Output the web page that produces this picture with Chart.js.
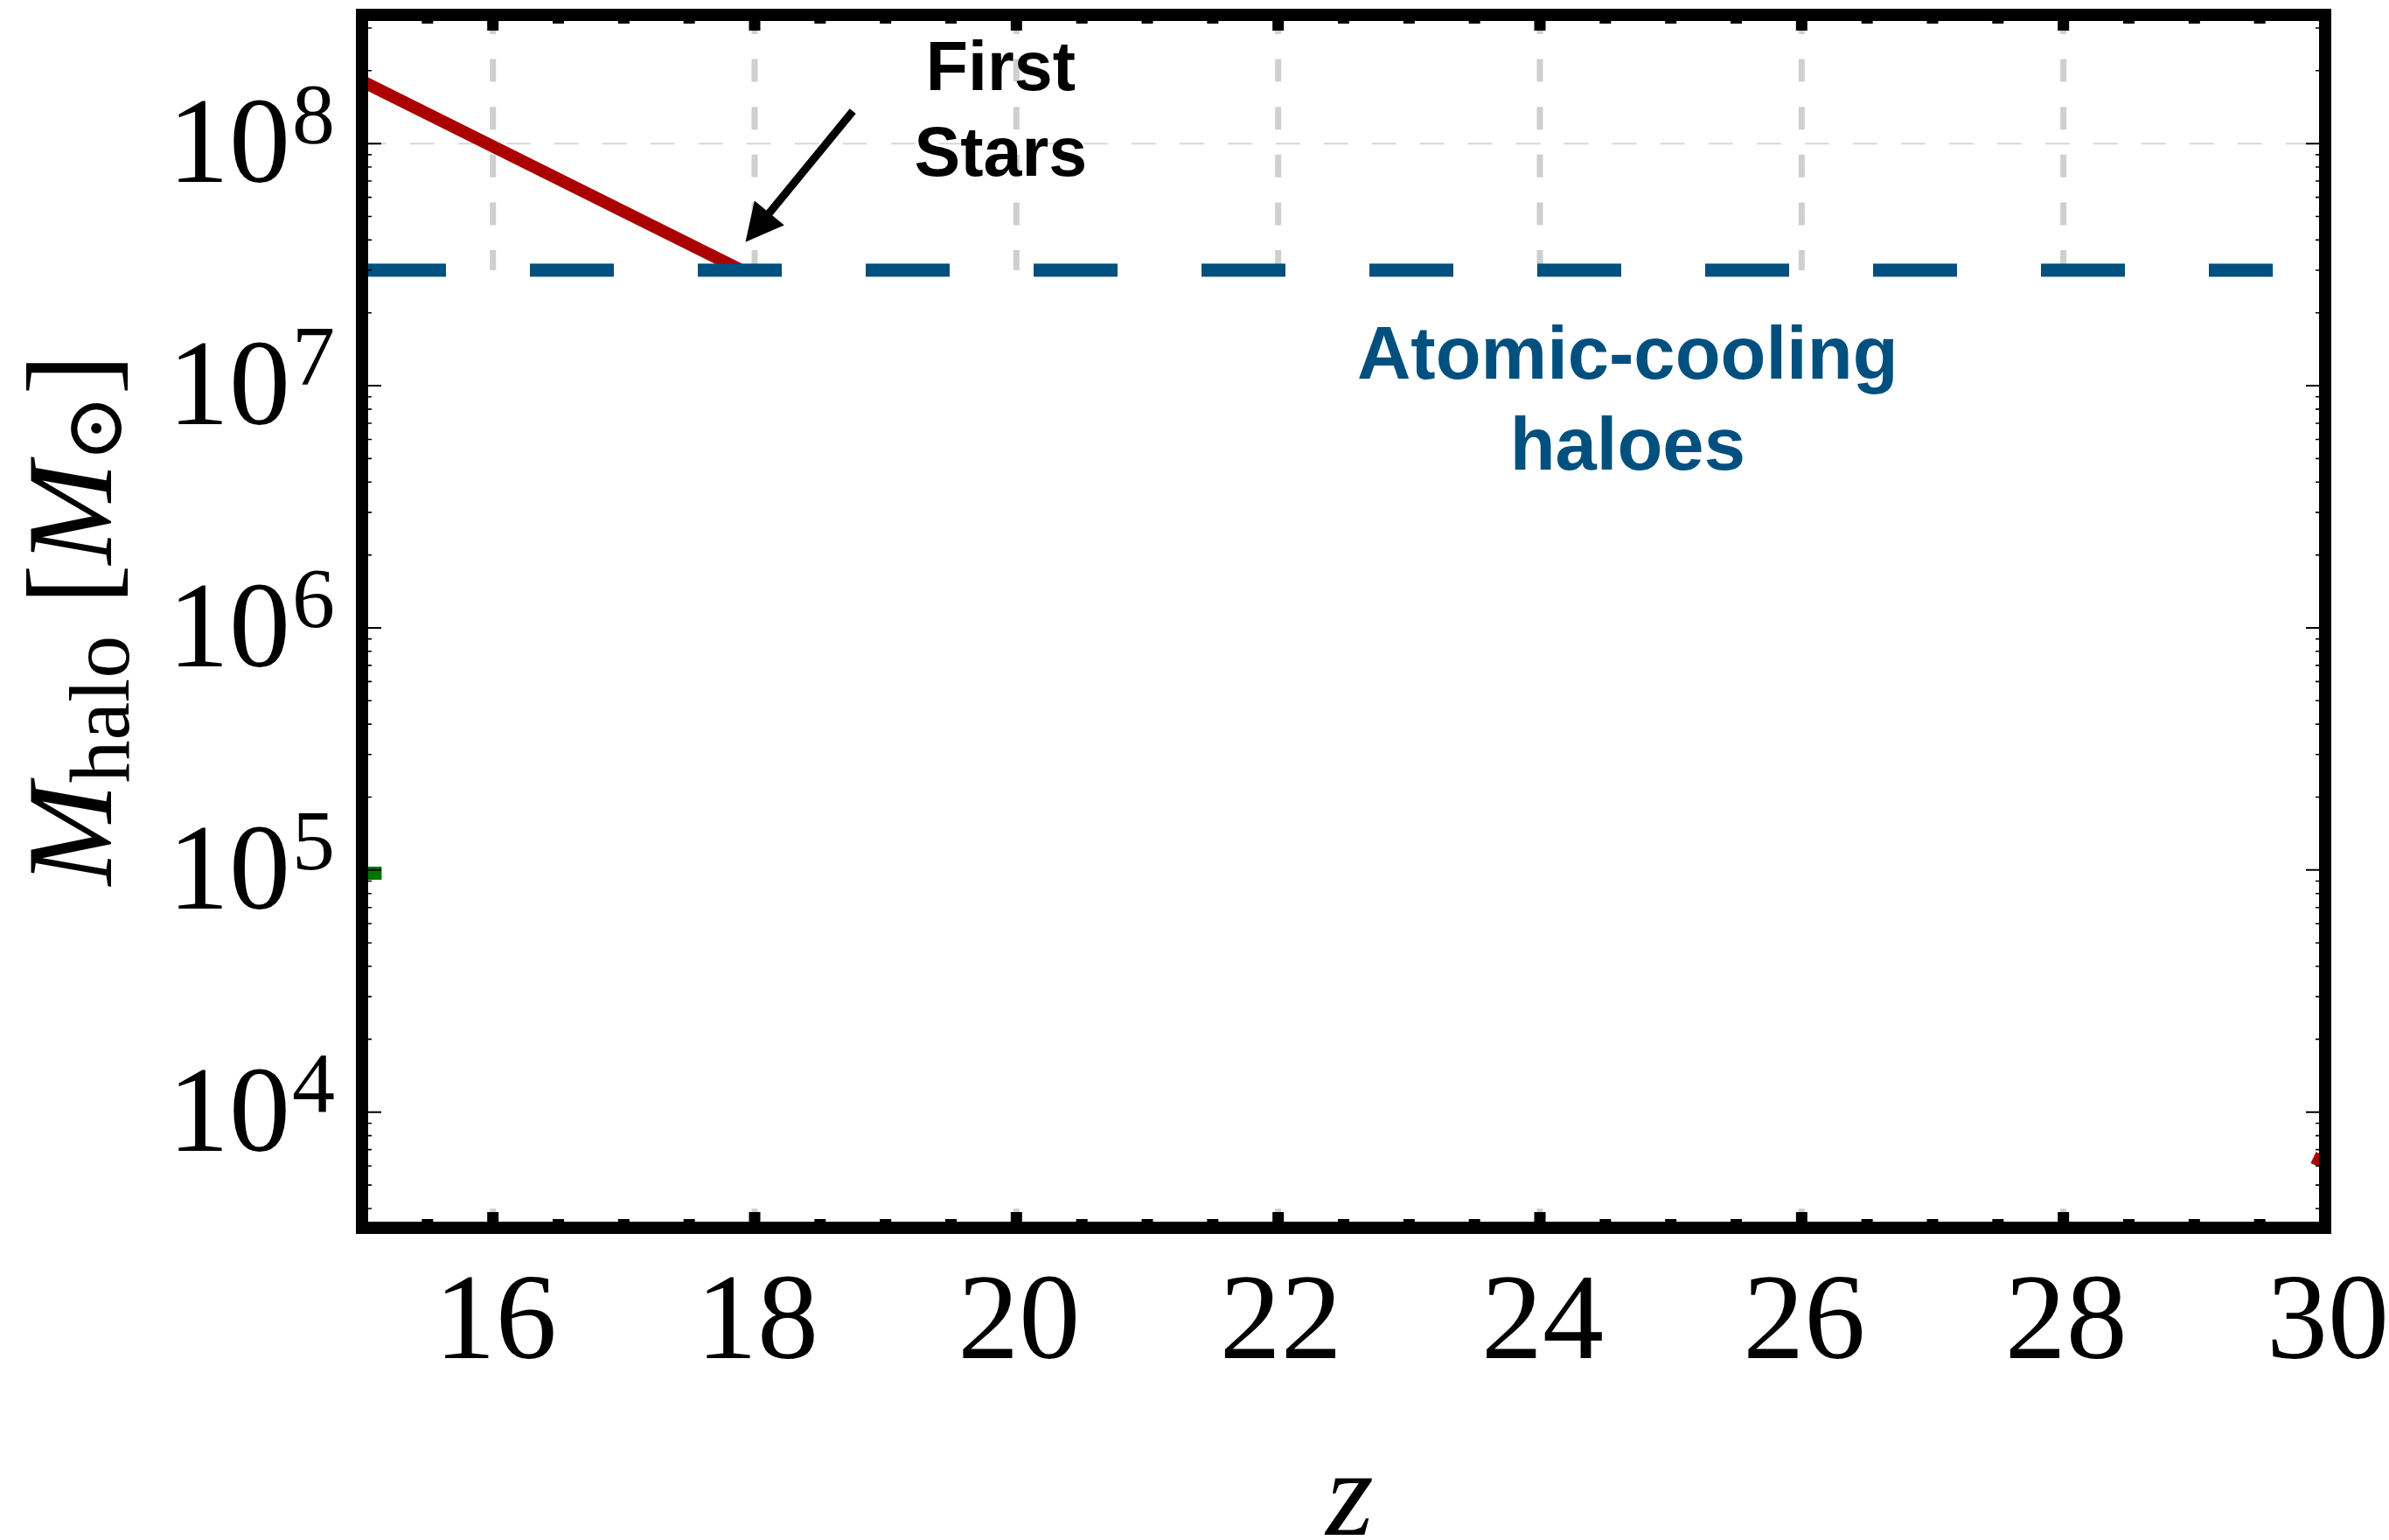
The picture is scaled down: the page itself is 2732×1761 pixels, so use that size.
<!DOCTYPE html>
<html>
<head>
<meta charset="utf-8">
<title>Halo mass versus redshift</title>
<script src="https://cdn.jsdelivr.net/npm/chart.js@4.4.1/dist/chart.umd.min.js"></script>
<style>
  html, body { margin: 0; padding: 0; background: #ffffff; }
  #wrap { width: 2732px; height: 1761px; position: relative; }
</style>
</head>
<body>
<div id="wrap"><canvas id="c"></canvas></div>
<script>
// Axis ranges and ticks
const zRange = [15, 30];
const massRange = [3.33e3, 3.4e8];
const zTickLabels = [16, 18, 20, 22, 24, 26, 28, 30];
const zMinorStep = 0.5;
const massTickExponents = [4, 5, 6, 7, 8];

// Halo mass of the first star-forming haloes (red track)
const zFirstStars = [15.0, 17.9];
const mFirstStars = [1.81e8, 3.0e7];

// Atomic-cooling threshold (blue dashed)
const zAtomic = [15.0, 29.6];
const mAtomic = [3.0e7, 3.0e7];

// White band below the threshold (hides the grid there)
const zBand = [15.0, 30.0];
const mBandTop = [3.0e7, 3.0e7];
const mBandBottom = 4.0e3;

// Red track entering at the high-redshift edge
const zRedHighZ = [29.91, 30.6];
const mRedHighZ = [6.5e3, 4.3e3];

// Green track at the low-redshift edge
const zGreen = [14.5, 15.15];
const mGreen = [9.7e4, 9.7e4];

// Annotation texts
const firstStarsText = ['First', 'Stars'];
const atomicText = ['Atomic-cooling', 'haloes'];

const SERIF = "'Liberation Serif', 'DejaVu Serif', serif";
const SANS = "'Liberation Sans', Arial, Helvetica, sans-serif";
const RED = '#aa0000';
const BLUE = '#00507f';
const GREEN = '#007400';

function track(xs, ys, color, width, extra) {
  return Object.assign({
    data: xs.map((x, i) => ({ x: x, y: ys[i] })),
    borderColor: color,
    backgroundColor: color,
    borderWidth: width,
    pointRadius: 0,
    pointHoverRadius: 0,
    tension: 0,
    fill: false,
    clip: 0,
    borderCapStyle: 'butt',
    borderJoinStyle: 'round'
  }, extra || {});
}

// Dashed grid at every labelled redshift and every decade of mass
const gridPlugin = {
  id: 'dashedGrid',
  beforeDatasetsDraw(chart) {
    const { ctx, chartArea: a, scales: { x, y } } = chart;
    ctx.save();
    ctx.beginPath();
    ctx.rect(a.left, a.top, a.right - a.left, a.bottom - a.top);
    ctx.clip();
    ctx.lineCap = 'butt';
    ctx.strokeStyle = '#cfcfcf';
    ctx.lineWidth = 7;
    ctx.setLineDash([26, 28.6]);
    zTickLabels.forEach(z => {
      const px = x.getPixelForValue(z);
      ctx.beginPath();
      ctx.moveTo(px, a.bottom);
      ctx.lineTo(px, a.top);
      ctx.stroke();
    });
    ctx.strokeStyle = '#d6d6d6';
    ctx.lineWidth = 2;
    ctx.setLineDash([27.5, 27.5]);
    massTickExponents.forEach(e => {
      const py = y.getPixelForValue(Math.pow(10, e));
      ctx.beginPath();
      ctx.moveTo(a.left, py);
      ctx.lineTo(a.right, py);
      ctx.stroke();
    });
    ctx.restore();
  }
};

// Frame, inward ticks, tick labels and axis titles
const axesPlugin = {
  id: 'frameAxes',
  afterDatasetsDraw(chart) {
    const { ctx, chartArea: a, scales: { x, y } } = chart;
    ctx.save();
    ctx.setLineDash([]);

    // frame
    ctx.strokeStyle = '#000';
    ctx.lineWidth = 14;
    ctx.lineJoin = 'miter';
    ctx.strokeRect(a.left, a.top, a.right - a.left, a.bottom - a.top);

    // x ticks (top and bottom)
    ctx.fillStyle = '#000';
    const tw = 13;
    for (let z = zRange[0]; z <= zRange[1] + 1e-9; z += zMinorStep) {
      const px = x.getPixelForValue(z);
      const major = zTickLabels.indexOf(z) >= 0;
      const len = major ? 18 : 10;
      ctx.fillRect(px - tw / 2, a.top, tw, len);
      ctx.fillRect(px - tw / 2, a.bottom - len, tw, len);
    }

    // y ticks (left and right)
    ctx.strokeStyle = '#000';
    for (let d = 3; d <= 8; d++) {
      for (let k = 1; k <= 9; k++) {
        const v = k * Math.pow(10, d);
        if (v < massRange[0] || v > massRange[1]) continue;
        const py = y.getPixelForValue(v);
        const major = k === 1;
        ctx.lineWidth = major ? 2 : 1.6;
        const len = major ? 22 : 11;
        ctx.beginPath();
        ctx.moveTo(a.left, py); ctx.lineTo(a.left + len, py);
        ctx.moveTo(a.right, py); ctx.lineTo(a.right - len, py);
        ctx.stroke();
      }
    }

    // x tick labels
    ctx.fillStyle = '#000';
    ctx.font = '140px ' + SERIF;
    ctx.textAlign = 'center';
    ctx.textBaseline = 'alphabetic';
    zTickLabels.forEach(z => {
      ctx.fillText(String(z), x.getPixelForValue(z) + 3, a.bottom + 149);
    });

    // y tick labels 10^n
    const rightEdge = a.left - 31;
    massTickExponents.forEach(e => {
      const py = y.getPixelForValue(Math.pow(10, e));
      ctx.textAlign = 'right';
      ctx.font = '98px ' + SERIF;
      const sup = String(e);
      const sw = ctx.measureText(sup).width;
      ctx.fillText(sup, rightEdge, py - 1);
      ctx.font = '140px ' + SERIF;
      ctx.fillText('10', rightEdge - sw - 2, py + 44);
    });

    // x axis title
    ctx.textAlign = 'center';
    ctx.font = 'italic 140px ' + SERIF;
    ctx.fillText('z', (a.left + a.right) / 2 + 7, a.bottom + 351);

    // y axis title  M_halo [M_sun]
    const pieces = [
      { t: 'M', f: 'italic 140px ' + SERIF, dy: 0 },
      { t: 'halo', f: '98px ' + SERIF, dy: 20 },
      { t: ' ', f: '140px ' + SERIF, dy: 0 },
      { t: '[', f: '140px ' + SERIF, dy: 0 },
      { t: 'M', f: 'italic 140px ' + SERIF, dy: 0 },
      { t: '\u2299', f: '92px ' + SERIF, dy: 12 },
      { t: ']', f: '140px ' + SERIF, dy: 0 }
    ];
    let total = 0;
    pieces.forEach(p => { ctx.font = p.f; p.w = ctx.measureText(p.t).width; total += p.w; });
    ctx.translate(127, (a.top + a.bottom) / 2 - 2);
    ctx.rotate(-Math.PI / 2);
    ctx.textAlign = 'left';
    let cx = -total / 2;
    pieces.forEach(p => {
      ctx.font = p.f;
      ctx.fillText(p.t, cx, p.dy);
      cx += p.w;
    });
    ctx.restore();
  }
};

// Text labels and the arrow pointing at the first-star halo
const notesPlugin = {
  id: 'notes',
  afterDatasetsDraw(chart) {
    const { ctx, scales: { x, y } } = chart;
    ctx.save();
    ctx.textAlign = 'center';
    ctx.textBaseline = 'alphabetic';

    ctx.fillStyle = '#000';
    ctx.font = 'bold 79px ' + SANS;
    const fx = x.getPixelForValue(19.88), fy = y.getPixelForValue(1.666e8);
    firstStarsText.forEach((t, i) => ctx.fillText(t, fx, fy + i * 98));

    ctx.fillStyle = BLUE;
    ctx.font = 'bold 85px ' + SANS;
    const ax = x.getPixelForValue(24.67), ay = y.getPixelForValue(1.07e7);
    atomicText.forEach((t, i) => ctx.fillText(t, ax, ay + i * 104));

    // arrow
    const x0 = x.getPixelForValue(18.75), y0 = y.getPixelForValue(1.36e8);
    const x1 = x.getPixelForValue(17.93), y1 = y.getPixelForValue(3.92e7);
    const ang = Math.atan2(y1 - y0, x1 - x0);
    const hl = 43, hw = 44;
    const bx = x1 - hl * Math.cos(ang), by = y1 - hl * Math.sin(ang);
    ctx.strokeStyle = '#000';
    ctx.fillStyle = '#000';
    ctx.lineWidth = 9;
    ctx.lineCap = 'butt';
    ctx.beginPath();
    ctx.moveTo(x0, y0);
    ctx.lineTo(bx + 2 * Math.cos(ang), by + 2 * Math.sin(ang));
    ctx.stroke();
    const nx = -Math.sin(ang), ny = Math.cos(ang);
    ctx.beginPath();
    ctx.moveTo(x1, y1);
    ctx.lineTo(bx + nx * hw / 2, by + ny * hw / 2);
    ctx.lineTo(bx - nx * hw / 2, by - ny * hw / 2);
    ctx.closePath();
    ctx.fill();
    ctx.restore();
  }
};

new Chart(document.getElementById('c'), {
  type: 'line',
  data: {
    // earlier entries are painted on top of later ones
    datasets: [
      track(zAtomic, mAtomic, BLUE, 15, { borderDash: [96, 96] }),
      track(zFirstStars, mFirstStars, RED, 14, { borderCapStyle: 'round' }),
      track(zRedHighZ, mRedHighZ, RED, 14),
      track(zGreen, mGreen, GREEN, 15),
      track(zBand, mBandTop, 'rgba(0,0,0,0)', 0, {
        backgroundColor: '#ffffff',
        fill: { value: mBandBottom }
      })
    ]
  },
  options: {
    responsive: true,
    maintainAspectRatio: false,
    devicePixelRatio: 1,
    animation: false,
    events: [],
    layout: { padding: { left: 414, top: 17, right: 73, bottom: 357 } },
    scales: {
      x: { type: 'linear', min: zRange[0], max: zRange[1], display: false },
      y: { type: 'logarithmic', min: massRange[0], max: massRange[1], display: false }
    },
    plugins: {
      legend: { display: false },
      tooltip: { enabled: false },
      title: { display: false }
    }
  },
  plugins: [gridPlugin, axesPlugin, notesPlugin]
});
</script>
</body>
</html>
